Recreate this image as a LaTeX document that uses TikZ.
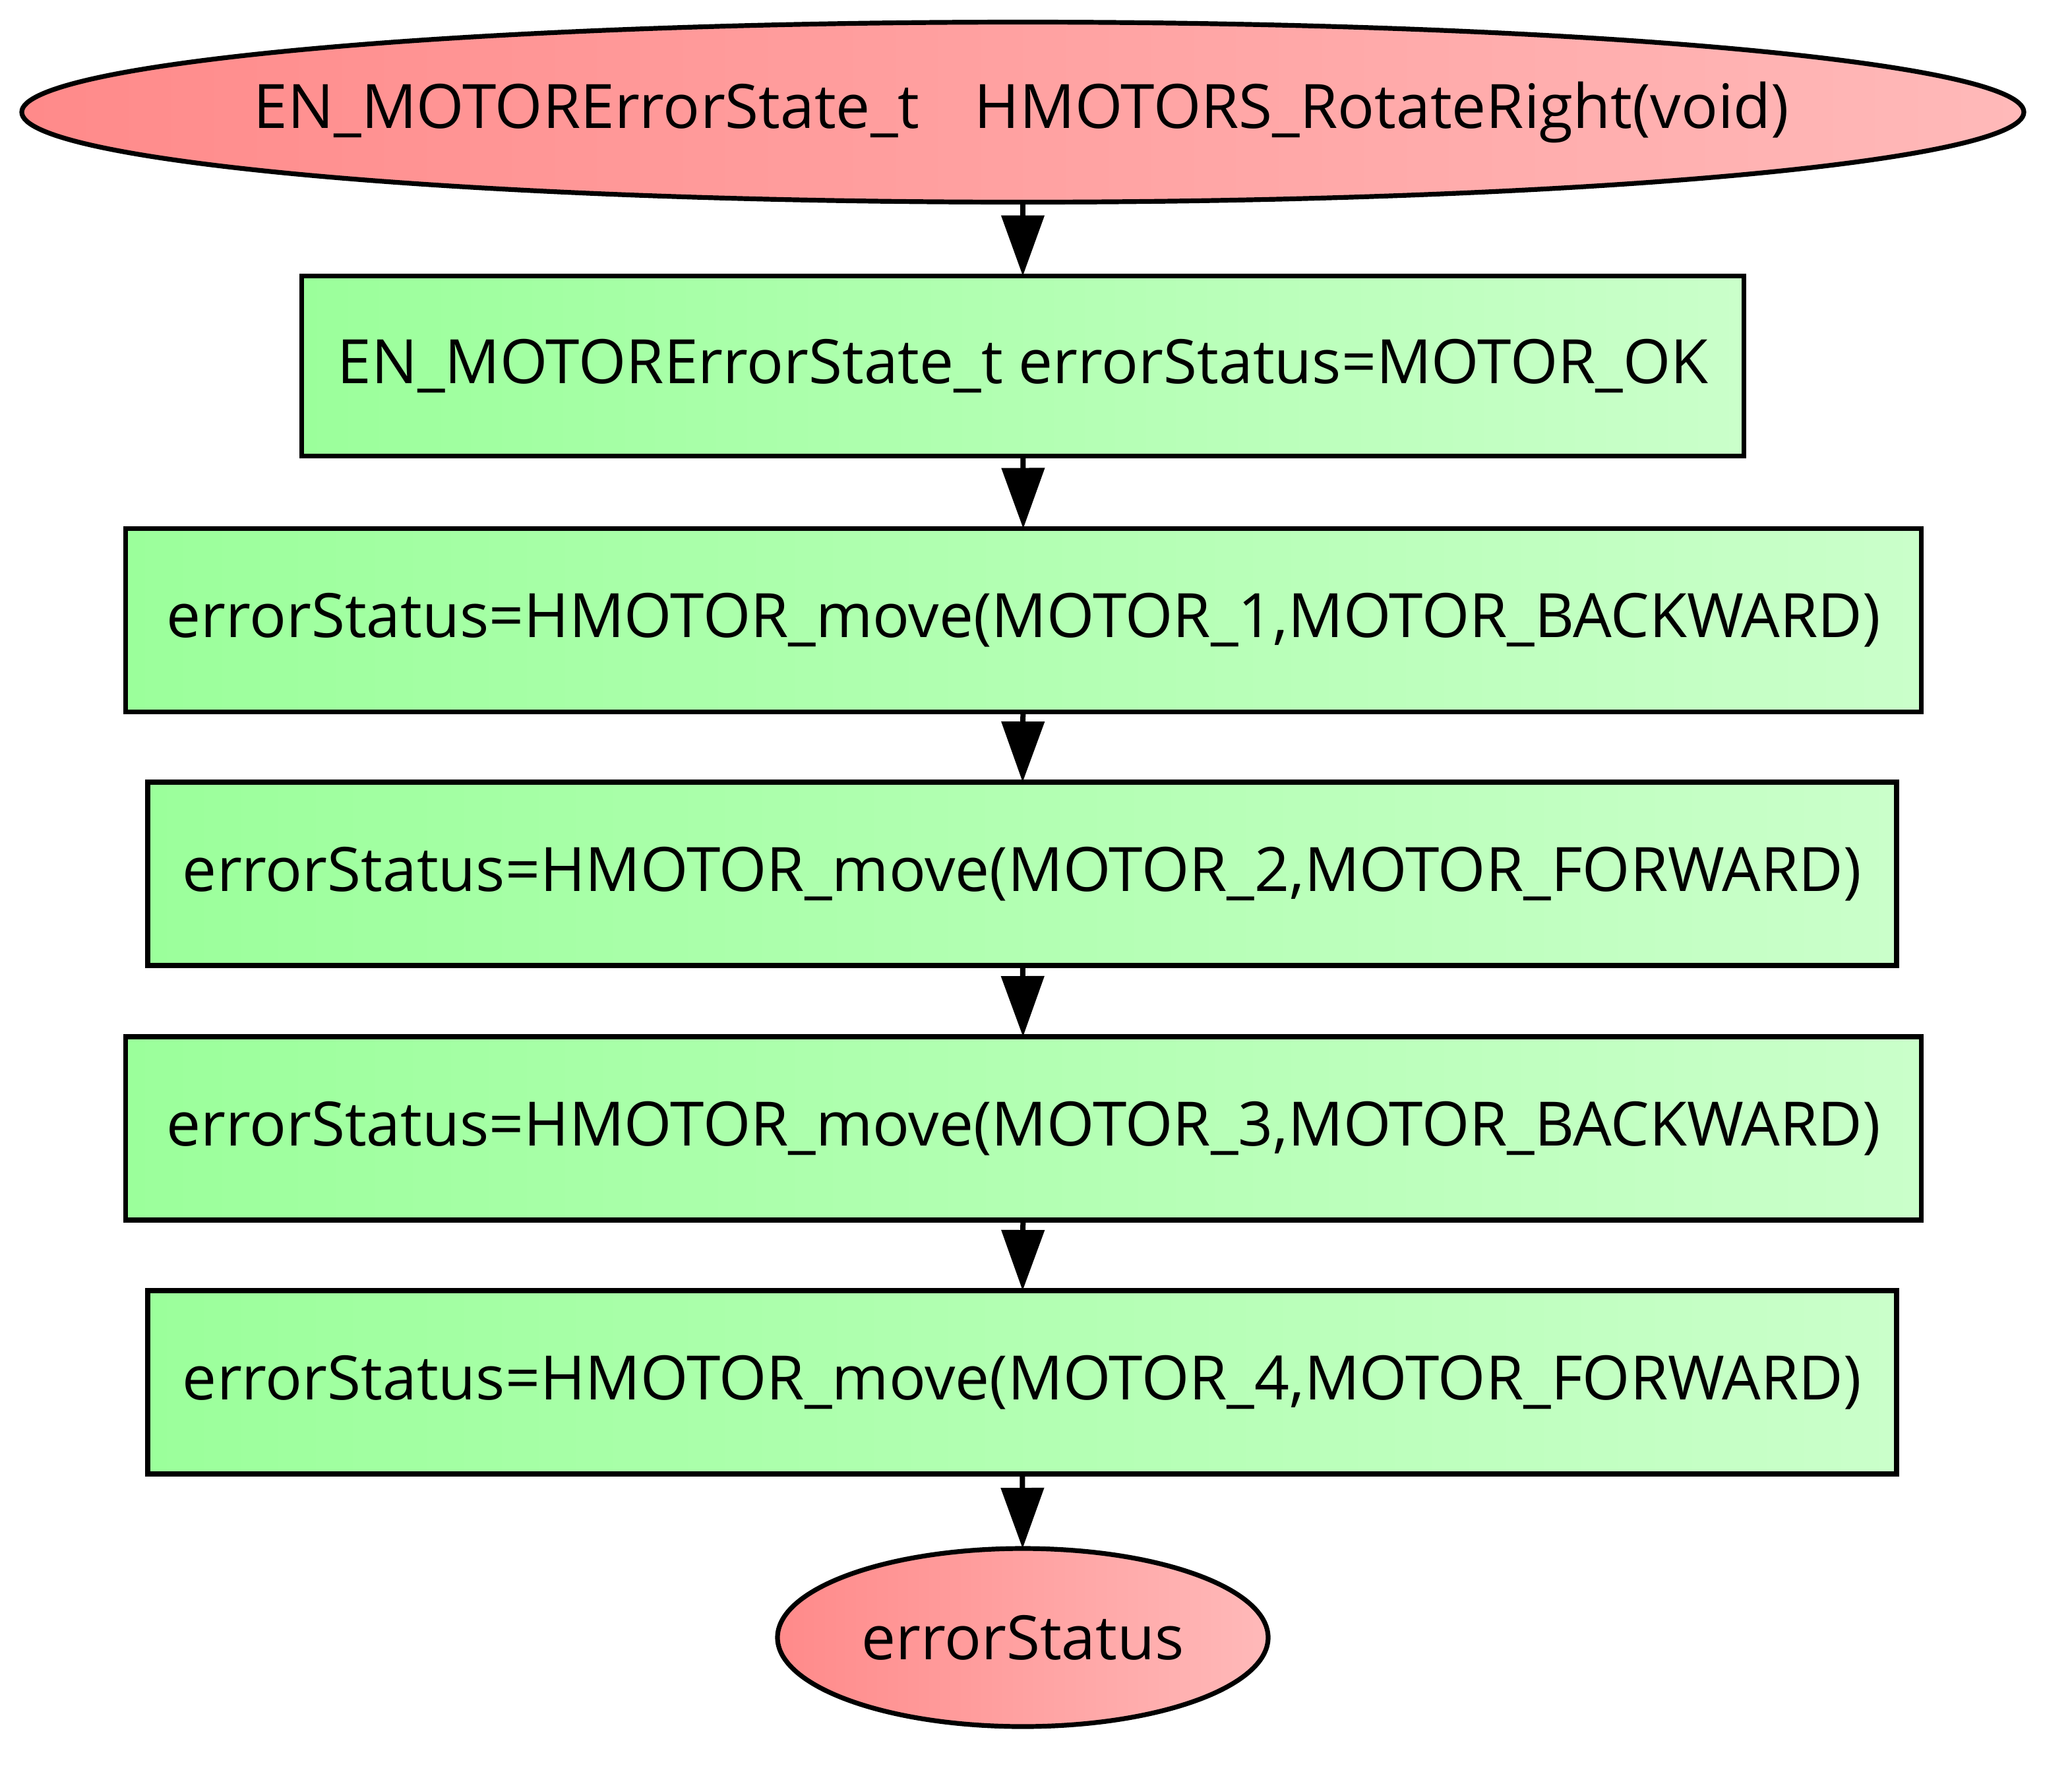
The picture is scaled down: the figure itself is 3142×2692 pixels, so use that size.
\documentclass[tikz,border=0pt]{standalone}
\usepackage{fontspec}
\setmainfont{Open Sans}
\usetikzlibrary{arrows.meta,shapes.geometric}
\definecolor{redL}{RGB}{255,138,138}
\definecolor{redR}{RGB}{255,185,185}
\definecolor{grnL}{RGB}{155,255,155}
\definecolor{grnR}{RGB}{202,255,202}
\tikzset{
  termnode/.style={ellipse, draw=black, line width=1.8pt, left color=redL, right color=redR, inner sep=0pt, outer sep=0pt},
  stepbox/.style={rectangle, draw=black, line width=1.8pt, left color=grnL, right color=grnR, inner sep=0pt, outer sep=0pt, font=\fontsize{23.2}{28}\selectfont},
  lbl/.style={font=\fontsize{23.2}{28}\selectfont, inner sep=0pt},
  flow/.style={line width=2pt, -{Triangle[length=23pt,width=16pt]}}
}
\begin{document}
\begin{tikzpicture}[x=0.25pt,y=-0.25pt]
\useasboundingbox (0,0) rectangle (3142,2692);
\node[termnode, minimum width=759pt, minimum height=68.25pt] (top) at (1551,170) {};
\node[lbl] (toplbl) at (1549,170) {EN\_MOTORErrorState\_t\hspace{0.9em}HMOTORS\_RotateRight(void)};
\node[stepbox, minimum width=546.75pt, minimum height=68.25pt] (b1) at (1551,555) {EN\_MOTORErrorState\_t errorStatus=MOTOR\_OK};
\node[stepbox, minimum width=680.75pt, minimum height=69.5pt] (b2) at (1552,940.5) {errorStatus=HMOTOR\_move(MOTOR\_1,MOTOR\_BACKWARD)};
\node[stepbox, minimum width=663pt, minimum height=69.5pt] (b3) at (1550,1325) {errorStatus=HMOTOR\_move(MOTOR\_2,MOTOR\_FORWARD)};
\node[stepbox, minimum width=680.75pt, minimum height=69.5pt] (b4) at (1552,1711) {errorStatus=HMOTOR\_move(MOTOR\_3,MOTOR\_BACKWARD)};
\node[stepbox, minimum width=663pt, minimum height=69.5pt] (b5) at (1550,2096) {errorStatus=HMOTOR\_move(MOTOR\_4,MOTOR\_FORWARD)};
\node[termnode, minimum width=186pt, minimum height=67.5pt] (bot) at (1551,2483) {};
\node[lbl] (botlbl) at (1551,2483) {errorStatus};
\draw[flow] (top) -- (b1);
\draw[flow] (b1) -- (b2);
\draw[flow] (b2) -- (b3);
\draw[flow] (b3) -- (b4);
\draw[flow] (b4) -- (b5);
\draw[flow] (b5) -- (bot);
\end{tikzpicture}
\end{document}
